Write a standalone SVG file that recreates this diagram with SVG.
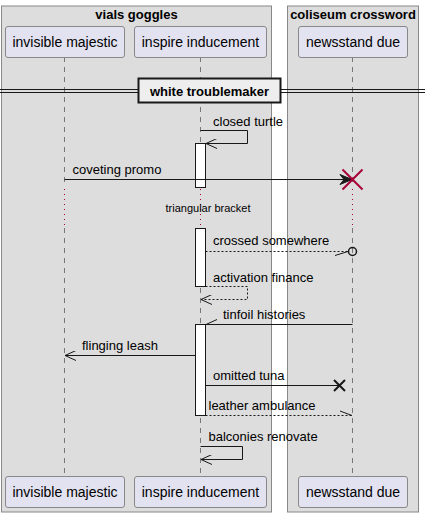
<svg xmlns="http://www.w3.org/2000/svg" width="425" height="517" viewBox="0 0 425 517">
<style>
.grp{fill:#DDDDDD;stroke:#888888;stroke-width:1}
.gt{font-family:"Liberation Sans",Arial,sans-serif;font-size:13px;font-weight:bold;fill:#000;text-anchor:middle}
.pb{fill:#E2E2F0;stroke:#888888;stroke-width:1}
.pt{font-family:"Liberation Sans",Arial,sans-serif;font-size:14px;fill:#000;text-anchor:middle}
.ll{stroke:#777777;stroke-width:1;stroke-dasharray:5,5;fill:none}
.dl{stroke:#A80036;stroke-width:1;stroke-dasharray:1,4;fill:none}
.act{fill:#FFFFFF;stroke:#181818;stroke-width:1}
.m{stroke:#181818;stroke-width:1;fill:none}
.md{stroke:#181818;stroke-width:1;fill:none;stroke-dasharray:2,2}
.mt{font-family:"Liberation Sans",Arial,sans-serif;font-size:13px;fill:#000}
.st{font-family:"Liberation Sans",Arial,sans-serif;font-size:11px;fill:#000;text-anchor:middle}
</style>
<defs>
<marker id="open" viewBox="0 0 12 10" refX="11" refY="5" markerWidth="12" markerHeight="10" markerUnits="userSpaceOnUse" orient="auto">
<path d="M0,0 L11,5 L0,10" fill="none" stroke="#181818" stroke-width="1"/>
</marker>
</defs>
<g id="box-vials-goggles">
<rect class="grp" x="1.5" y="6" width="270" height="506"/>
<text class="gt" x="136.5" y="19">vials goggles</text>
</g>
<g id="box-coliseum-crossword">
<rect class="grp" x="287.5" y="6" width="131" height="506"/>
<text class="gt" x="353" y="19">coliseum crossword</text>
</g>
<g id="lifelines">
<path class="ll" d="M64.5,57 V187 M64.5,228 V476"/>
<path class="ll" d="M200.5,57 V187 M200.5,228 V476"/>
<path class="ll" d="M352.5,57 V187 M352.5,228 V476"/>
<path class="dl" d="M64.5,189 V226 M200.5,189 V226 M352.5,189 V226"/>
</g>
<g id="divider">
<path d="M0,89.5 H425 M0,92.5 H425" stroke="#181818" stroke-width="1" fill="none"/>
<rect x="138.5" y="78.5" width="142" height="24" fill="#EEEEEE" stroke="#181818" stroke-width="2"/>
<text class="gt" x="209.5" y="96">white troublemaker</text>
</g>
<g id="p-invisible-majestic">
<rect class="pb" x="5.5" y="26.5" width="119" height="31" rx="2.5"/>
<text class="pt" x="65" y="47">invisible majestic</text>
<rect class="pb" x="5.5" y="476.5" width="119" height="31" rx="2.5"/>
<text class="pt" x="65" y="497">invisible majestic</text>
</g>
<g id="p-inspire-inducement">
<rect class="pb" x="134.5" y="26.5" width="132" height="31" rx="2.5"/>
<text class="pt" x="200.5" y="47">inspire inducement</text>
<rect class="pb" x="134.5" y="476.5" width="132" height="31" rx="2.5"/>
<text class="pt" x="200.5" y="497">inspire inducement</text>
</g>
<g id="p-newsstand-due">
<rect class="pb" x="298.5" y="26.5" width="109" height="31" rx="2.5"/>
<text class="pt" x="353" y="47">newsstand due</text>
<rect class="pb" x="298.5" y="476.5" width="109" height="31" rx="2.5"/>
<text class="pt" x="353" y="497">newsstand due</text>
</g>
<g id="activations">
<rect class="act" x="195.5" y="143.5" width="10" height="44"/>
<rect class="act" x="195.5" y="228.5" width="10" height="58"/>
<rect class="act" x="195.5" y="324.5" width="10" height="91"/>
</g>
<g id="connectors">
<path class="m" d="M200.5,130.5 H247.5 V143.5 H206" marker-end="url(#open)"/>
<text class="mt" x="213" y="126">closed turtle</text>

<path class="m" d="M64.5,179.5 H345"/>
<path d="M352,179.5 L340,174.5 L344,179.5 L340,184.5 Z" fill="#181818" stroke="#181818" stroke-width="1"/>
<path d="M342.5,169.5 L362.5,189.5 M362.5,169.5 L342.5,189.5" stroke="#A80036" stroke-width="2" fill="none"/>
<text class="mt" x="72.5" y="174">coveting promo</text>

<text class="st" x="208" y="212">triangular bracket</text>

<path class="md" d="M205.5,251.5 H348"/>
<path class="m" d="M335,255.5 L348,251.5"/>
<circle cx="352.5" cy="251.5" r="4" fill="none" stroke="#181818" stroke-width="1.5"/>
<text class="mt" x="213" y="245">crossed somewhere</text>

<path class="md" d="M205.5,286.5 H247.5 V299.5 H201" marker-end="url(#open)"/>
<text class="mt" x="213" y="282">activation finance</text>

<path class="m" d="M352.5,324.5 H206 M206,324.5 L217,319.5"/>
<text class="mt" x="223" y="319">tinfoil histories</text>

<path class="m" d="M195.5,355.5 H65" marker-end="url(#open)"/>
<text class="mt" x="82" y="350">flinging leash</text>

<path class="m" d="M205.5,385.5 H339"/>
<path d="M334,380 L345,391 M345,380 L334,391" stroke="#181818" stroke-width="2" fill="none"/>
<text class="mt" x="213" y="380">omitted tuna</text>

<path class="md" d="M205.5,415.5 H352"/>
<path class="m" d="M340,411 L352,415.5"/>
<text class="mt" x="208.5" y="410">leather ambulance</text>

<path class="m" d="M200.5,446.5 H242.5 V459.5 H201" marker-end="url(#open)"/>
<text class="mt" x="208.5" y="441">balconies renovate</text>
</g>
</svg>
